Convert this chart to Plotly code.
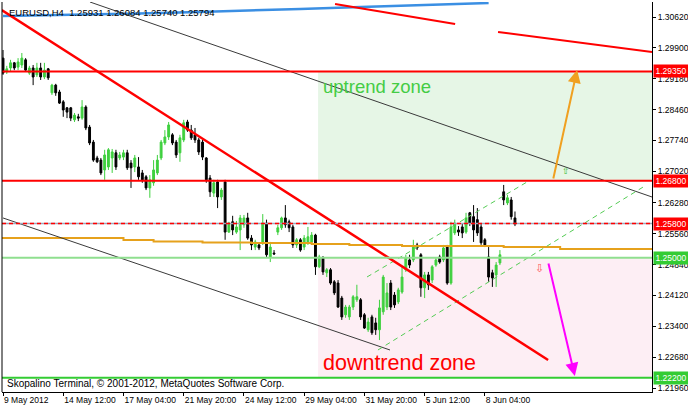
import plotly.graph_objects as go

# ---------------- data ----------------
bar_index = list(range(137))
opens = [1.2966,1.2934,1.2943,1.2955,1.2945,1.2950,1.2962,1.2931,1.2943,1.2927,
1.2943,1.2922,1.2941,1.2885,1.2903,1.2887,1.2864,1.2850,1.2850,1.2822,
1.2829,1.2826,1.2852,1.2805,1.2770,1.2733,1.2728,1.2705,1.2712,1.2733,
1.2745,1.2733,1.2735,1.2745,1.2721,1.2712,1.2712,1.2698,1.2689,1.2663,
1.2675,1.2698,1.2733,1.2768,1.2782,1.2787,1.2770,1.2745,1.2775,1.2817,
1.2798,1.2787,1.2775,1.2770,1.2733,1.2686,1.2651,1.2677,1.2642,1.2677,
1.2560,1.2584,1.2560,1.2565,1.2577,1.2593,1.2546,1.2525,1.2530,1.2537,
1.2581,1.2502,1.2511,1.2560,1.2570,1.2593,1.2584,1.2572,1.2530,1.2542,
1.2525,1.2537,1.2537,1.2553,1.2479,1.2500,1.2465,1.2472,1.2444,1.2441,
1.2406,1.2367,1.2362,1.2385,1.2402,1.2402,1.2367,1.2332,1.2362,1.2348,
1.2332,1.2374,1.2385,1.2441,1.2413,1.2397,1.2420,1.2472,1.2495,1.2495,
1.2530,1.2507,1.2430,1.2460,1.2448,1.2483,1.2502,1.2495,1.2525,1.2441,
1.2558,1.2565,1.2572,1.2560,1.2605,1.2596,1.2589,1.2572,1.2542,1.2502,
1.2465,1.2460,1.2488,1.2654,1.2628,1.2635,1.2593]
highs = [1.2985,1.2948,1.2962,1.2957,1.2966,1.2978,1.2966,1.2948,1.2950,1.2955,
1.2955,1.2955,1.2943,1.2906,1.2906,1.2892,1.2868,1.2852,1.2852,1.2838,
1.2836,1.2868,1.2856,1.2810,1.2775,1.2738,1.2733,1.2752,1.2756,1.2754,
1.2752,1.2747,1.2752,1.2752,1.2728,1.2740,1.2735,1.2705,1.2693,1.2693,
1.2728,1.2740,1.2775,1.2798,1.2817,1.2791,1.2775,1.2787,1.2822,1.2822,
1.2810,1.2803,1.2780,1.2775,1.2735,1.2693,1.2682,1.2682,1.2663,1.2682,
1.2584,1.2598,1.2586,1.2600,1.2600,1.2605,1.2553,1.2542,1.2535,1.2602,
1.2589,1.2537,1.2518,1.2577,1.2596,1.2623,1.2589,1.2577,1.2546,1.2546,
1.2553,1.2572,1.2560,1.2556,1.2507,1.2504,1.2476,1.2476,1.2448,1.2448,
1.2411,1.2390,1.2390,1.2413,1.2437,1.2406,1.2371,1.2360,1.2367,1.2360,
1.2402,1.2460,1.2441,1.2448,1.2420,1.2430,1.2479,1.2507,1.2507,1.2542,
1.2535,1.2511,1.2467,1.2467,1.2483,1.2500,1.2507,1.2530,1.2530,1.2584,
1.2589,1.2574,1.2579,1.2605,1.2607,1.2623,1.2616,1.2579,1.2546,1.2525,
1.2472,1.2490,1.2518,1.2670,1.2647,1.2642,1.2608]
lows = [1.2927,1.2929,1.2934,1.2938,1.2938,1.2943,1.2934,1.2927,1.2903,1.2922,
1.2915,1.2917,1.2915,1.2880,1.2878,1.2859,1.2829,1.2826,1.2819,1.2817,
1.2819,1.2822,1.2798,1.2763,1.2724,1.2721,1.2693,1.2682,1.2705,1.2698,
1.2705,1.2728,1.2728,1.2705,1.2663,1.2700,1.2682,1.2675,1.2658,1.2640,
1.2668,1.2693,1.2728,1.2763,1.2775,1.2763,1.2733,1.2724,1.2770,1.2794,
1.2775,1.2768,1.2740,1.2728,1.2675,1.2642,1.2642,1.2616,1.2635,1.2542,
1.2558,1.2553,1.2556,1.2518,1.2570,1.2542,1.2518,1.2518,1.2518,1.2530,
1.2502,1.2490,1.2507,1.2553,1.2565,1.2570,1.2560,1.2523,1.2523,1.2514,
1.2518,1.2530,1.2530,1.2460,1.2476,1.2460,1.2455,1.2437,1.2413,1.2383,
1.2355,1.2360,1.2355,1.2378,1.2397,1.2355,1.2334,1.2327,1.2320,1.2320,
1.2308,1.2367,1.2378,1.2378,1.2383,1.2392,1.2416,1.2467,1.2476,1.2490,
1.2518,1.2409,1.2406,1.2425,1.2441,1.2479,1.2486,1.2490,1.2437,1.2437,
1.2553,1.2551,1.2546,1.2556,1.2574,1.2537,1.2551,1.2530,1.2525,1.2444,
1.2432,1.2432,1.2483,1.2623,1.2623,1.2589,1.2574]
closes = [1.2931,1.2941,1.2955,1.2943,1.2957,1.2966,1.2938,1.2943,1.2922,1.2943,
1.2922,1.2938,1.2920,1.2903,1.2885,1.2861,1.2845,1.2840,1.2826,1.2833,
1.2826,1.2852,1.2803,1.2768,1.2728,1.2724,1.2698,1.2740,1.2752,1.2747,
1.2712,1.2740,1.2745,1.2710,1.2710,1.2733,1.2689,1.2682,1.2663,1.2682,
1.2705,1.2728,1.2770,1.2782,1.2810,1.2768,1.2740,1.2780,1.2815,1.2798,
1.2780,1.2775,1.2747,1.2735,1.2682,1.2654,1.2675,1.2642,1.2658,1.2560,
1.2581,1.2565,1.2572,1.2593,1.2593,1.2546,1.2530,1.2537,1.2523,1.2581,
1.2507,1.2525,1.2509,1.2570,1.2593,1.2577,1.2570,1.2530,1.2542,1.2518,
1.2546,1.2549,1.2553,1.2479,1.2502,1.2467,1.2472,1.2441,1.2418,1.2385,
1.2362,1.2385,1.2385,1.2409,1.2409,1.2362,1.2336,1.2350,1.2325,1.2332,
1.2383,1.2455,1.2418,1.2385,1.2390,1.2425,1.2455,1.2500,1.2483,1.2525,
1.2523,1.2430,1.2460,1.2437,1.2479,1.2495,1.2490,1.2523,1.2441,1.2572,
1.2581,1.2560,1.2558,1.2593,1.2581,1.2565,1.2558,1.2535,1.2530,1.2455,
1.2453,1.2483,1.2507,1.2635,1.2640,1.2596,1.2579]

x_tick_pos = [0, 16, 32, 48, 64, 80, 96, 112, 128]
x_tick_text = ["9 May 2012", "14 May 12:00", "17 May 04:00", "21 May 20:00",
               "24 May 12:00", "29 May 04:00", "31 May 20:00", "5 Jun 12:00", "8 Jun 04:00"]
y_tick_vals = [1.30620, 1.29900, 1.29180, 1.28460, 1.27740, 1.27020, 1.26280,
               1.25560, 1.24840, 1.24120, 1.23400, 1.22680, 1.21960]

# indicator lines (bar index, price)
blue_ma_x = [0, 20, 36, 52, 63, 79, 95, 111, 129]
blue_ma_y = [1.30643, 1.30667, 1.30702, 1.30737, 1.30772, 1.30807, 1.30853, 1.30900, 1.30947]
orange_ma_x = [-1, 32, 40, 53, 66, 82, 92, 106, 133, 148, 173]
orange_ma_y = [1.25462, 1.25415, 1.25380, 1.25357, 1.25345, 1.25322, 1.25299, 1.25275, 1.25252, 1.25205, 1.25182]

# trend lines: (x0, x1), (p0, p1)
red_trend_x = [-0.35, 144.8];   red_trend_y = [1.30784, 1.22615]
red_top1_x = [88.2, 120.1];     red_top1_y = [1.30924, 1.30457]
red_top2_x = [131.5, 172.4];    red_top2_y = [1.30270, 1.29803]
black_up_x = [23.1, 172.4];     black_up_y = [1.30970, 1.26419]
black_lo_x = [0, 102.8];        black_lo_y = [1.25929, 1.22848]
green_up_x = [96.7, 139.2];     green_up_y = [1.24552, 1.26769]
green_lo_x = [99.6, 170.5];     green_lo_y = [1.22848, 1.26676]

# horizontal levels
level_prices = [1.29350, 1.26800, 1.25800, 1.25000, 1.22200]
level_colors = ["#ff0000", "#ff0000", "#ff0000", "#8fdf8f", "#33cc33"]
label_colors = ["#ff0000", "#ff0000", "#ff0000", "#33cc33", "#33cc33"]

# zones
zone_x0 = 83.7
up_zone = [1.2680, 1.2935]
down_zone = [1.2220, 1.2500]

# arrows (tail -> head)
up_arrow = [(146.1, 1.26816), (152.5, 1.29383)]
down_arrow = [(144.8, 1.24901), (151.9, 1.22241)]

X_RANGE = [-0.27, 172.4]
Y_RANGE = [1.218674, 1.3097]
FONT = "Liberation Sans, Arial, sans-serif"

fig = go.Figure()

fig.add_trace(go.Candlestick(
    x=bar_index, open=opens, high=highs, low=lows, close=closes,
    increasing=dict(line=dict(color="#3fd03f", width=1), fillcolor="#3fd03f"),
    decreasing=dict(line=dict(color="#000000", width=1), fillcolor="#000000"),
    whiskerwidth=0, hoverinfo="skip", showlegend=False))

def add_line(x, y, color, width, dash="solid", shape="linear"):
    fig.add_trace(go.Scatter(x=x, y=y, mode="lines",
                             line=dict(color=color, width=width, dash=dash, shape=shape),
                             hoverinfo="skip", showlegend=False))

add_line(orange_ma_x, orange_ma_y, "#e6a11c", 2, shape="hv")
add_line(blue_ma_x, blue_ma_y, "#3b8fe3", 2.5)
add_line(black_up_x, black_up_y, "#3a3a3a", 1)
add_line(black_lo_x, black_lo_y, "#3a3a3a", 1)
add_line(green_up_x, green_up_y, "#55cc55", 1, dash="5px,4px")
add_line(green_lo_x, green_lo_y, "#55cc55", 1, dash="5px,4px")
add_line(red_trend_x, red_trend_y, "#ff0000", 2.5)
add_line(red_top1_x, red_top1_y, "#ff0000", 2)
add_line(red_top2_x, red_top2_y, "#ff0000", 2)

shapes = []
shapes.append(dict(type="rect", xref="x", yref="y", x0=zone_x0, x1=X_RANGE[1],
                   y0=up_zone[0], y1=up_zone[1], fillcolor="#e6f6e6",
                   line=dict(width=0), layer="below"))
shapes.append(dict(type="rect", xref="x", yref="y", x0=zone_x0, x1=X_RANGE[1],
                   y0=down_zone[0], y1=down_zone[1], fillcolor="#fdeef4",
                   line=dict(width=0), layer="below"))
for i, (p, c) in enumerate(zip(level_prices, level_colors)):
    if i == 2:
        shapes.append(dict(type="line", xref="paper", yref="y", x0=0, x1=1, y0=p, y1=p,
                           line=dict(color="#a0a6ba", width=1.5), layer="above"))
        shapes.append(dict(type="line", xref="paper", yref="y", x0=0, x1=1, y0=p, y1=p,
                           line=dict(color=c, width=1.5, dash="4px,3px"), layer="above"))
    else:
        shapes.append(dict(type="line", xref="paper", yref="y", x0=0, x1=1, y0=p, y1=p,
                           line=dict(color=c, width=2), layer="above"))
# left border
shapes.append(dict(type="line", xref="paper", yref="paper", x0=0, x1=0, y0=0, y1=1,
                   line=dict(color="#000000", width=1)))

annotations = []
annotations.append(dict(xref="paper", yref="paper", x=0, y=1, xanchor="left", yanchor="top",
                        xshift=5, yshift=-3, showarrow=False,
                        text="EURUSD,H4\u00a0\u00a01.25931 1.26084 1.25740 1.25794",
                        font=dict(family=FONT, size=9.5, color="#000000")))
annotations.append(dict(xref="paper", yref="paper", x=0, y=0, xanchor="left", yanchor="bottom",
                        xshift=3, yshift=1, showarrow=False,
                        text="Skopalino Terminal, © 2001-2012, MetaQuotes Software Corp.",
                        font=dict(family=FONT, size=10, color="#000000")))
annotations.append(dict(xref="x", yref="y", x=84.6, y=1.2900, xanchor="left", yanchor="middle",
                        showarrow=False, text="uptrend zone",
                        font=dict(family=FONT, size=18.5, color="#44cc44")))
annotations.append(dict(xref="x", yref="y", x=84.6, y=1.2254, xanchor="left", yanchor="middle",
                        showarrow=False, text="downtrend zone",
                        font=dict(family=FONT, size=21.5, color="#ff0000")))
for p, c in zip(level_prices, label_colors):
    annotations.append(dict(xref="paper", yref="y", x=1, y=p, xanchor="left", yanchor="middle",
                            xshift=1, showarrow=False, text=f"{p:.5f}", bgcolor=c,
                            borderpad=1, width=32,
                            font=dict(family=FONT, size=8.5, color="#ffffff")))
for (tail, head), col in [(up_arrow, "#f0a020"), (down_arrow, "#ff00ff")]:
    annotations.append(dict(xref="x", yref="y", axref="x", ayref="y",
                            x=head[0], y=head[1], ax=tail[0], ay=tail[1],
                            showarrow=True, arrowhead=2, arrowsize=1.3, arrowwidth=2,
                            arrowcolor=col, text=""))
annotations.append(dict(xref="x", yref="y", x=142.6, y=1.2476, showarrow=False, text="⇩",
                        font=dict(family="DejaVu Sans", size=11, color="#ff5555")))
annotations.append(dict(xref="x", yref="y", x=149.5, y=1.2702, showarrow=False, text="⇧",
                        font=dict(family="DejaVu Sans", size=9, color="#33bb33")))

fig.update_layout(
    template="none",
    width=688, height=408,
    margin=dict(l=2, r=36, t=2, b=16, autoexpand=False),
    paper_bgcolor="#ffffff", plot_bgcolor="#ffffff",
    shapes=shapes, annotations=annotations,
    showlegend=False,
    xaxis=dict(range=X_RANGE, tickvals=x_tick_pos, ticktext=x_tick_text,
               ticks="outside", ticklen=3, tickcolor="#000000", tickangle=0,
               ticklabelposition="outside right", automargin=False,
               showline=True, linecolor="#000000", linewidth=1,
               showgrid=False, zeroline=False, rangeslider=dict(visible=False),
               tickfont=dict(family=FONT, size=8.5, color="#000000")),
    yaxis=dict(range=Y_RANGE, side="right", tickvals=y_tick_vals,
               ticktext=[f"{v:.5f}" for v in y_tick_vals], automargin=False,
               ticks="outside", ticklen=3, tickcolor="#000000",
               showline=True, linecolor="#000000", linewidth=1,
               showgrid=False, zeroline=False,
               tickfont=dict(family=FONT, size=8.5, color="#000000")),
)

fig.write_html("out.html", config={"displayModeBar": False},
               post_script="document.body.style.margin='0px';document.body.style.overflow='hidden';")
